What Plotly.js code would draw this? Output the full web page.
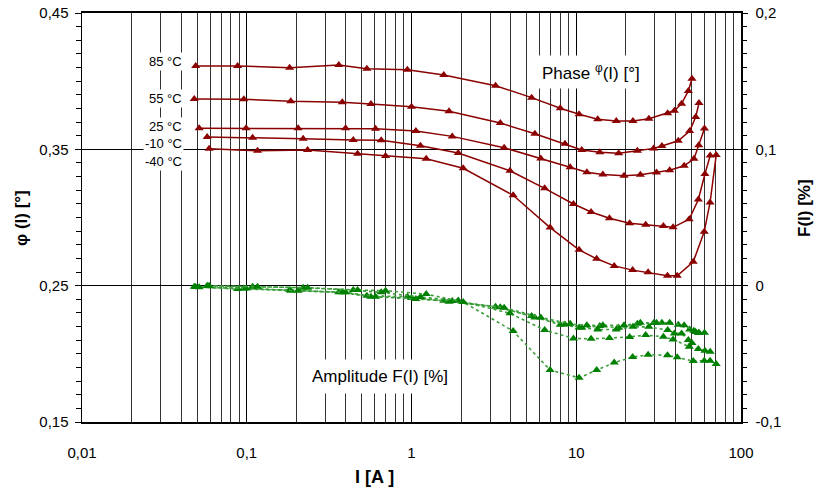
<!DOCTYPE html>
<html><head><meta charset="utf-8">
<script src="https://cdn.plot.ly/plotly-3.0.1.min.js"></script>
<style>html,body{margin:0;padding:0;background:#fff}#chart{width:819px;height:488px}</style>
</head><body><div id="chart"></div>
<script>
// Current I [A] per temperature series
const I85  = [0.049, 0.088, 0.182, 0.362, 0.536, 0.944, 1.57, 3.24, 5.36, 8.0, 10.4, 13.5, 17.5, 22.1, 27.6, 35.9, 39.4, 43.6, 47.9, 50.4];
const I55  = [0.048, 0.096, 0.185, 0.38, 0.567, 1.0, 1.69, 3.46, 5.61, 8.54, 10.8, 13.9, 18.1, 23.5, 29.5, 33.1, 41.6, 48.8, 53.1, 55.6];
const I25  = [0.0514, 0.0991, 0.205, 0.398, 0.605, 1.063, 1.767, 3.65, 6.09, 9.18, 11.6, 14.5, 19.5, 24.5, 30.7, 36.9, 45.2, 51.8, 55.4, 60.0];
const Im10 = [0.0575, 0.1085, 0.220, 0.443, 0.655, 1.133, 1.921, 3.96, 6.43, 9.62, 12.3, 15.9, 21.1, 26.4, 33.8, 38.7, 48.5, 55.1, 60.4, 65.0];
const Im40 = [0.0591, 0.1163, 0.234, 0.471, 0.696, 1.228, 2.06, 4.14, 6.94, 10.4, 13.3, 17.0, 22.0, 27.3, 35.8, 41.0, 51.3, 59.8, 64.9, 70.7];

// Phase phi(I) [deg]
const P85  = [0.4111, 0.4111, 0.4099, 0.4118, 0.4091, 0.4083, 0.4045, 0.3967, 0.3879, 0.3801, 0.3757, 0.372, 0.3708, 0.3708, 0.3725, 0.3764, 0.3783, 0.3835, 0.3928, 0.4018];
const P55  = [0.3869, 0.3867, 0.3852, 0.3845, 0.3832, 0.3813, 0.3779, 0.3693, 0.3614, 0.3541, 0.3495, 0.3478, 0.3471, 0.349, 0.3507, 0.3524, 0.3563, 0.3634, 0.3737, 0.384];
const P25  = [0.3654, 0.3654, 0.3654, 0.3654, 0.3651, 0.3634, 0.3595, 0.3512, 0.3433, 0.3368, 0.3332, 0.3315, 0.3306, 0.3314, 0.333, 0.3347, 0.3379, 0.3431, 0.353, 0.3653];
const Pm10 = [0.359, 0.3585, 0.3578, 0.3568, 0.3566, 0.3526, 0.3473, 0.3343, 0.3214, 0.3099, 0.304, 0.2994, 0.2958, 0.2947, 0.2937, 0.2928, 0.2987, 0.3132, 0.3319, 0.3454];
const Pm40 = [0.3504, 0.349, 0.3495, 0.3468, 0.3451, 0.3431, 0.3361, 0.3163, 0.2926, 0.2763, 0.2697, 0.2645, 0.2614, 0.2598, 0.2573, 0.2573, 0.2675, 0.2895, 0.311, 0.3458];

// Amplitude F(I) [%]
const A85  = [-0.0010, -0.0025, -0.0032, -0.0049, -0.0074, -0.0081, -0.0111, -0.0155, -0.0223, -0.0287, -0.0306, -0.0321, -0.0321, -0.0302, -0.0302, -0.0326, -0.0350, -0.0350, -0.0399, -0.0421];
const A55  = [-0.0008, -0.0020, -0.0037, -0.0049, -0.0081, -0.0091, -0.0118, -0.0159, -0.0233, -0.0284, -0.0309, -0.0296, -0.0309, -0.0280, -0.0274, -0.0272, -0.0287, -0.0321, -0.0340, -0.0346];
const A25  = [-0.0012, -0.0020, -0.0037, -0.0049, -0.0081, -0.0098, -0.0113, -0.0162, -0.0233, -0.0280, -0.0291, -0.0291, -0.0291, -0.0272, -0.0272, -0.0272, -0.0291, -0.0331, -0.0348, -0.0346];
const Am10 = [-0.0001, -0.0008, -0.0015, -0.0032, -0.0049, -0.0084, -0.0109, -0.0203, -0.0326, -0.0387, -0.0390, -0.0384, -0.0376, -0.0362, -0.0375, -0.0395, -0.0448, -0.0465, -0.0478, -0.0485];
const Am40 = [-0.0001, -0.0008, -0.0015, -0.0032, -0.0037, -0.0062, -0.0120, -0.0333, -0.0619, -0.0676, -0.0619, -0.0564, -0.0524, -0.0507, -0.0511, -0.0525, -0.0553, -0.0550, -0.0551, -0.0574];

const tempLabels = ['85 °C', '55 °C', '25 °C', '-10 °C', '-40 °C'];
const xTickVals = [0.01, 0.1, 1, 10, 100];
const xTickText = ['0,01', '0,1', '1', '10', '100'];
const yTickVals = [0.15, 0.25, 0.35, 0.45];
const yTickText = ['0,15', '0,25', '0,35', '0,45'];
const y2TickVals = [-0.1, 0, 0.1, 0.2];
const y2TickText = ['-0,1', '0', '0,1', '0,2'];

const minorX = [];
[0.01, 0.1, 1, 10].forEach(d => { for (let k = 2; k <= 9; k++) minorX.push(+(d * k).toPrecision(3)); });

const RED = '#8B0000', GREEN = '#008000', LGREEN = '#3c9f3c';
const Is = [I85, I55, I25, Im10, Im40];
const Ps = [P85, P55, P25, Pm10, Pm40];
const As = [A85, A55, A25, Am10, Am40];

const traces = [];
for (let i = 0; i < 5; i++) {
  traces.push({x: Is[i], y: As[i], yaxis: 'y2', mode: 'lines+markers', name: 'F ' + tempLabels[i],
    line: {color: LGREEN, width: 1.6, dash: 'dot'},
    marker: {symbol: 'triangle-up', size: 8, color: GREEN}});
}
for (let i = 0; i < 5; i++) {
  traces.push({x: Is[i], y: Ps[i], mode: 'lines+markers', name: 'φ ' + tempLabels[i],
    line: {color: RED, width: 1.5},
    marker: {symbol: 'triangle-up', size: 8, color: RED}});
}

const W = 819, H = 488, L = 82, R = 78, T = 13, B = 66;
const pw = W - L - R, ph = H - T - B;
const px = x => (x - L) / pw;
const py = y => 1 - (y - T) / ph;
const FONT = 'Liberation Sans, Arial, sans-serif';

const labelYs = [62, 99, 126, 143, 161];
const annotations = tempLabels.map((t, i) => ({
  text: t, xref: 'paper', yref: 'paper', x: px(184), y: py(labelYs[i]), xanchor: 'right', yanchor: 'middle',
  showarrow: false, bgcolor: '#fff', borderpad: 1, font: {family: FONT, size: 13, color: '#000'}
}));
annotations.push({text: 'Phase <sup>φ</sup>(I) [°]', xref: 'paper', yref: 'paper',
  x: px(591), y: py(72), xanchor: 'center', yanchor: 'middle', showarrow: false, bgcolor: '#fff', borderpad: 5,
  font: {family: FONT, size: 17, color: '#000'}});
annotations.push({text: 'Amplitude F(I) [%]', xref: 'paper', yref: 'paper',
  x: px(380), y: py(376), xanchor: 'center', yanchor: 'middle', showarrow: false, bgcolor: '#fff', borderpad: 7,
  font: {family: FONT, size: 17, color: '#000'}});
annotations.push({text: '<b>φ (I) [°]</b>', xref: 'paper', yref: 'paper', x: px(21), y: py(218),
  xanchor: 'center', yanchor: 'middle', textangle: -90, showarrow: false, font: {family: FONT, size: 17, color: '#000'}});
annotations.push({text: '<b>F(I) [%]</b>', xref: 'paper', yref: 'paper', x: px(805), y: py(208),
  xanchor: 'center', yanchor: 'middle', textangle: -90, showarrow: false, font: {family: FONT, size: 17, color: '#000'}});
annotations.push({text: '<b>I [A ]</b>', xref: 'paper', yref: 'paper', x: px(374), y: py(477),
  xanchor: 'center', yanchor: 'middle', showarrow: false, font: {family: FONT, size: 18, color: '#000'}});

const layout = {
  width: W, height: H, margin: {l: L, r: R, t: T, b: B, pad: 0},
  paper_bgcolor: '#fff', plot_bgcolor: '#fff', showlegend: false,
  font: {family: FONT, size: 15, color: '#000'},
  xaxis: {type: 'log', range: [-2, 2], tickmode: 'array', tickvals: xTickVals, ticktext: xTickText,
    showgrid: true, gridcolor: '#000', gridwidth: 1, ticks: '', ticklabelstandoff: 16,
    minor: {tickmode: 'array', tickvals: minorX, showgrid: true, gridcolor: '#333', gridwidth: 1, ticks: ''},
    showline: true, linecolor: '#000', linewidth: 2, mirror: true, zeroline: false,
    tickfont: {family: FONT, size: 15}},
  yaxis: {range: [0.15, 0.45], tickmode: 'array', tickvals: yTickVals, ticktext: yTickText,
    showgrid: true, gridcolor: '#000', gridwidth: 1, ticks: 'outside', ticklen: 6, tickcolor: '#000', tickwidth: 1,
    minor: {dtick: 0.01, tick0: 0.15, ticks: 'outside', ticklen: 5, tickcolor: '#000', showgrid: false},
    showline: true, linecolor: '#000', linewidth: 1.5, zeroline: false, ticklabelstandoff: 3,
    tickfont: {family: FONT, size: 15}},
  yaxis2: {overlaying: 'y', side: 'right', range: [-0.1, 0.2], tickmode: 'array', tickvals: y2TickVals, ticktext: y2TickText,
    showgrid: false, ticks: 'outside', ticklen: 5, tickcolor: '#000', tickwidth: 1,
    minor: {dtick: 0.01, tick0: -0.1, ticks: 'outside', ticklen: 4, tickcolor: '#000', showgrid: false},
    showline: true, linecolor: '#000', linewidth: 1.5, zeroline: false, ticklabelstandoff: 5,
    tickfont: {family: FONT, size: 15}},
  annotations: annotations
};

Plotly.newPlot('chart', traces, layout, {displayModeBar: false, staticPlot: true});
</script>
</body></html>
